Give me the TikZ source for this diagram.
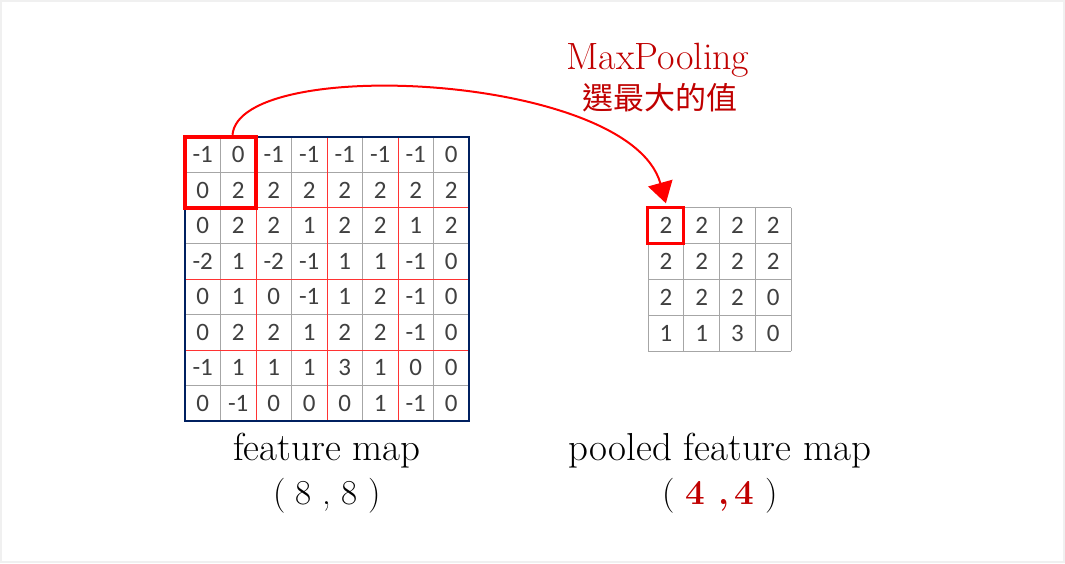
\documentclass[tikz,border=0pt]{standalone}
\usepackage{fontspec}
\usepackage{xcolor}
\usepackage{tikz}
\usetikzlibrary{arrows.meta,calc,fit,positioning}

\newfontfamily\cjkfont{Noto Sans CJK TC}
\newfontfamily\numfont{Carlito}

\definecolor{framegray}{HTML}{F0F0F0}
\definecolor{numgray}{HTML}{404040}
\definecolor{gridgray}{HTML}{A6A6A6}
\definecolor{mapnavy}{HTML}{002060}
\definecolor{darkred}{HTML}{C00000}

\tikzset{
  cellnum/.style={font=\numfont\fontsize{25}{25}\selectfont, text=numgray, inner sep=0pt},
  gridline/.style={draw=gridgray, line width=1pt},
  poolline/.style={draw=red!80, line width=1pt},
  window/.style={draw=red, line width=4pt, inner sep=0pt},
  flow/.style={draw=red, line width=2pt, -{Triangle[length=21pt,width=25pt]}},
  caption/.style={font=\fontsize{39}{44}\selectfont, text=black, anchor=base},
}

\begin{document}
\begin{tikzpicture}[x=1pt,y=1pt]
                \fill[framegray](0,0) rectangle (1065,563);
                \fill[white](2,2) rectangle (1063,561);
                \useasboundingbox (0,0) rectangle (1065,563);
                % feature map 8x8
                \foreach \row [count=\i] in {{-1,0,-1,-1,-1,-1,-1,0},{0,2,2,2,2,2,2,2},{0,2,2,1,2,2,1,2},{-2,1,-2,-1,1,1,-1,0},{0,1,0,-1,1,2,-1,0},{0,2,2,1,2,2,-1,0},{-1,1,1,1,3,1,0,0},{0,-1,0,0,0,1,-1,0}}{
                  \foreach \v [count=\j] in \row
                    \node[cellnum, minimum size=35.5pt] (f-\i-\j) at ({185+(\j-0.5)*35.5},{426-(\i-0.5)*35.5}){\v};
                }
                \foreach \k in {1,3,5,7}{
                  \draw[gridline]({185+\k*35.5},426)--({185+\k*35.5},142);
                  \draw[gridline](185,{426-\k*35.5})--(469,{426-\k*35.5});
                }
                \foreach \k in {2,4,6}{
                  \draw[poolline]({185+\k*35.5},426)--({185+\k*35.5},142);
                  \draw[poolline](185,{426-\k*35.5})--(469,{426-\k*35.5});
                }
                \draw[mapnavy,line width=2.5pt](185,426) rectangle (469,142);
                \node[window, fit=(f-1-1)(f-2-2)] (win){};
                % pooled feature map 4x4
                \foreach \row [count=\i] in {{2,2,2,2},{2,2,2,2},{2,2,2,0},{1,1,3,0}}{
                  \foreach \v [count=\j] in \row
                    \node[cellnum, minimum size=35.75pt] (p-\i-\j) at ({648+(\j-0.5)*35.75},{355-(\i-0.5)*35.75}){\v};
                }
                \foreach \k in {0,...,4}{
                  \draw[gridline]({648+\k*35.75},355)--({648+\k*35.75},212);
                  \draw[gridline](648,{355-\k*35.75})--(791,{355-\k*35.75});
                }
                \node[window, line width=3pt, fit=(p-1-1)] (pwin){};
                % arrow
                \draw[flow]([xshift=12pt]win.north) .. controls +(7,80) and +(-36,130) .. ([yshift=3pt]pwin.north);
                \node[anchor=base, text=darkred, font=\fontsize{38}{44}\selectfont] (mp) at (658,493){MaxPooling};
                \node[text=darkred, font=\cjkfont\fontsize{31}{36}\selectfont, inner sep=0pt] (mpzh) at (660,465){選最大的值};
                % captions
                \node[caption] (fmlab) at (327,103){feature map};
                \node[caption, font=\fontsize{35}{40}\selectfont] (fmsize) at (327,59){( 8 , 8 )};
                \node[caption] (pmlab) at (720,103){pooled feature map};
                \node[caption, font=\fontsize{35}{40}\selectfont] (pmsize) at (720,59){( \textcolor{darkred}{\textbf{4 ,\,4}} )};
            \end{tikzpicture}
\end{document}
